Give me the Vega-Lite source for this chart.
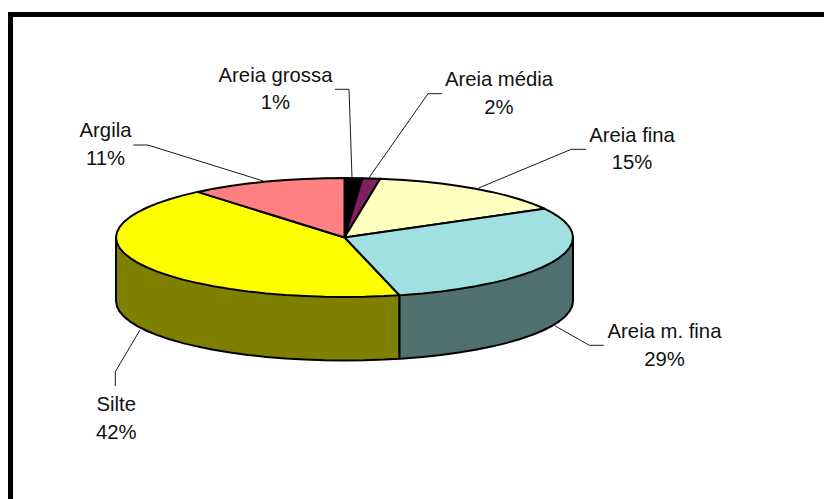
{
"$schema":"https://vega.github.io/schema/vega-lite/v6.json",
"width":824,"height":499,"padding":0,
"autosize":{"type":"fit","contains":"padding"},
"background":"white",
"view":{"stroke":null},
"config":{"view":{"stroke":null}},
"datasets":{
"frame":[
{"side":"top","i":1,"x":10.5,"y":14.5},{"side":"top","i":2,"x":824,"y":14.5},
{"side":"left","i":1,"x":10.5,"y":12},{"side":"left","i":2,"x":10.5,"y":499}],
"walls":[
{"slice":"Areia m. fina wall","i":1,"x":344.5,"y":237.5},{"slice":"Areia m. fina wall","i":2,"x":573,"y":237.5},{"slice":"Areia m. fina wall","i":3,"x":573,"y":301},
{"slice":"Areia m. fina wall","i":4,"x":572.1,"y":306.2},{"slice":"Areia m. fina wall","i":5,"x":569.5,"y":311.3},{"slice":"Areia m. fina wall","i":6,"x":565.2,"y":316.4},{"slice":"Areia m. fina wall","i":7,"x":559.2,"y":321.3},{"slice":"Areia m. fina wall","i":8,"x":551.6,"y":326.1},{"slice":"Areia m. fina wall","i":9,"x":542.4,"y":330.75},{"slice":"Areia m. fina wall","i":10,"x":531.7,"y":335.1},{"slice":"Areia m. fina wall","i":11,"x":519.5,"y":339.2},{"slice":"Areia m. fina wall","i":12,"x":506.1,"y":343.1},{"slice":"Areia m. fina wall","i":13,"x":491.4,"y":346.6},{"slice":"Areia m. fina wall","i":14,"x":475.6,"y":349.7},{"slice":"Areia m. fina wall","i":15,"x":458.8,"y":352.5},{"slice":"Areia m. fina wall","i":16,"x":441.1,"y":354.9},{"slice":"Areia m. fina wall","i":17,"x":422.6,"y":356.9},{"slice":"Areia m. fina wall","i":18,"x":403.6,"y":358.5},{"slice":"Areia m. fina wall","i":19,"x":399.3,"y":358.7},{"slice":"Areia m. fina wall","i":20,"x":399.3,"y":295.2},{"slice":"Areia m. fina wall","i":21,"x":344.5,"y":237.5},
{"slice":"Silte wall","i":1,"x":344.5,"y":237.5},{"slice":"Silte wall","i":2,"x":399.3,"y":295.2},{"slice":"Silte wall","i":3,"x":399.3,"y":358.7},
{"slice":"Silte wall","i":4,"x":384.2,"y":359.6},{"slice":"Silte wall","i":5,"x":364.4,"y":360.3},{"slice":"Silte wall","i":6,"x":344.5,"y":360.5},{"slice":"Silte wall","i":7,"x":324.6,"y":360.3},{"slice":"Silte wall","i":8,"x":304.8,"y":359.6},{"slice":"Silte wall","i":9,"x":285.4,"y":358.5},{"slice":"Silte wall","i":10,"x":266.4,"y":356.9},{"slice":"Silte wall","i":11,"x":247.9,"y":354.9},{"slice":"Silte wall","i":12,"x":230.2,"y":352.5},{"slice":"Silte wall","i":13,"x":213.4,"y":349.7},{"slice":"Silte wall","i":14,"x":197.6,"y":346.6},{"slice":"Silte wall","i":15,"x":182.9,"y":343.1},{"slice":"Silte wall","i":16,"x":169.5,"y":339.2},{"slice":"Silte wall","i":17,"x":157.3,"y":335.1},{"slice":"Silte wall","i":18,"x":146.6,"y":330.75},{"slice":"Silte wall","i":19,"x":137.4,"y":326.1},{"slice":"Silte wall","i":20,"x":129.8,"y":321.3},{"slice":"Silte wall","i":21,"x":123.8,"y":316.4},{"slice":"Silte wall","i":22,"x":119.5,"y":311.3},{"slice":"Silte wall","i":23,"x":116.9,"y":306.2},{"slice":"Silte wall","i":24,"x":116,"y":301},{"slice":"Silte wall","i":25,"x":116,"y":237.5},{"slice":"Silte wall","i":26,"x":344.5,"y":237.5}],
"tops":[
{"slice":"Areia grossa","i":1,"x":344.5,"y":237.5},{"slice":"Areia grossa","i":2,"x":344.5,"y":178},{"slice":"Areia grossa","i":3,"x":362.4,"y":178.2},{"slice":"Areia grossa","i":4,"x":344.5,"y":237.5},
{"slice":"Areia média","i":1,"x":344.5,"y":237.5},{"slice":"Areia média","i":2,"x":362.4,"y":178.2},{"slice":"Areia média","i":3,"x":380.2,"y":178.7},{"slice":"Areia média","i":4,"x":344.5,"y":237.5},
{"slice":"Areia fina","i":1,"x":344.5,"y":237.5},{"slice":"Areia fina","i":2,"x":380.2,"y":178.7},{"slice":"Areia fina","i":3,"x":384.2,"y":178.9},{"slice":"Areia fina","i":4,"x":403.6,"y":180},{"slice":"Areia fina","i":5,"x":422.6,"y":181.6},{"slice":"Areia fina","i":6,"x":441.1,"y":183.6},{"slice":"Areia fina","i":7,"x":458.8,"y":186},{"slice":"Areia fina","i":8,"x":475.6,"y":188.8},{"slice":"Areia fina","i":9,"x":491.4,"y":191.9},{"slice":"Areia fina","i":10,"x":506.1,"y":195.4},{"slice":"Areia fina","i":11,"x":519.5,"y":199.3},{"slice":"Areia fina","i":12,"x":531.7,"y":203.4},{"slice":"Areia fina","i":13,"x":542.4,"y":207.75},{"slice":"Areia fina","i":14,"x":544.3,"y":208.7},{"slice":"Areia fina","i":15,"x":344.5,"y":237.5},
{"slice":"Areia m. fina","i":1,"x":344.5,"y":237.5},{"slice":"Areia m. fina","i":2,"x":544.3,"y":208.7},{"slice":"Areia m. fina","i":3,"x":551.6,"y":212.4},{"slice":"Areia m. fina","i":4,"x":559.2,"y":217.2},{"slice":"Areia m. fina","i":5,"x":565.2,"y":222.1},{"slice":"Areia m. fina","i":6,"x":569.5,"y":227.2},{"slice":"Areia m. fina","i":7,"x":572.1,"y":232.3},{"slice":"Areia m. fina","i":8,"x":573,"y":237.5},{"slice":"Areia m. fina","i":9,"x":572.1,"y":242.7},{"slice":"Areia m. fina","i":10,"x":569.5,"y":247.8},{"slice":"Areia m. fina","i":11,"x":565.2,"y":252.9},{"slice":"Areia m. fina","i":12,"x":559.2,"y":257.8},{"slice":"Areia m. fina","i":13,"x":551.6,"y":262.6},{"slice":"Areia m. fina","i":14,"x":542.4,"y":267.25},{"slice":"Areia m. fina","i":15,"x":531.7,"y":271.6},{"slice":"Areia m. fina","i":16,"x":519.5,"y":275.7},{"slice":"Areia m. fina","i":17,"x":506.1,"y":279.6},{"slice":"Areia m. fina","i":18,"x":491.4,"y":283.1},{"slice":"Areia m. fina","i":19,"x":475.6,"y":286.2},{"slice":"Areia m. fina","i":20,"x":458.8,"y":289},{"slice":"Areia m. fina","i":21,"x":441.1,"y":291.4},{"slice":"Areia m. fina","i":22,"x":422.6,"y":293.4},{"slice":"Areia m. fina","i":23,"x":403.6,"y":295},{"slice":"Areia m. fina","i":24,"x":399.3,"y":295.2},{"slice":"Areia m. fina","i":25,"x":344.5,"y":237.5},
{"slice":"Silte","i":1,"x":344.5,"y":237.5},{"slice":"Silte","i":2,"x":399.3,"y":295.2},{"slice":"Silte","i":3,"x":384.2,"y":296.1},{"slice":"Silte","i":4,"x":364.4,"y":296.8},{"slice":"Silte","i":5,"x":344.5,"y":297},{"slice":"Silte","i":6,"x":324.6,"y":296.8},{"slice":"Silte","i":7,"x":304.8,"y":296.1},{"slice":"Silte","i":8,"x":285.4,"y":295},{"slice":"Silte","i":9,"x":266.4,"y":293.4},{"slice":"Silte","i":10,"x":247.9,"y":291.4},{"slice":"Silte","i":11,"x":230.2,"y":289},{"slice":"Silte","i":12,"x":213.4,"y":286.2},{"slice":"Silte","i":13,"x":197.6,"y":283.1},{"slice":"Silte","i":14,"x":182.9,"y":279.6},{"slice":"Silte","i":15,"x":169.5,"y":275.7},{"slice":"Silte","i":16,"x":157.3,"y":271.6},{"slice":"Silte","i":17,"x":146.6,"y":267.25},{"slice":"Silte","i":18,"x":137.4,"y":262.6},{"slice":"Silte","i":19,"x":129.8,"y":257.8},{"slice":"Silte","i":20,"x":123.8,"y":252.9},{"slice":"Silte","i":21,"x":119.5,"y":247.8},{"slice":"Silte","i":22,"x":116.9,"y":242.7},{"slice":"Silte","i":23,"x":116,"y":237.5},{"slice":"Silte","i":24,"x":116.9,"y":232.3},{"slice":"Silte","i":25,"x":119.5,"y":227.2},{"slice":"Silte","i":26,"x":123.8,"y":222.1},{"slice":"Silte","i":27,"x":129.8,"y":217.2},{"slice":"Silte","i":28,"x":137.4,"y":212.4},{"slice":"Silte","i":29,"x":146.6,"y":207.75},{"slice":"Silte","i":30,"x":157.3,"y":203.4},{"slice":"Silte","i":31,"x":169.5,"y":199.3},{"slice":"Silte","i":32,"x":182.9,"y":195.4},{"slice":"Silte","i":33,"x":197.6,"y":191.9},{"slice":"Silte","i":34,"x":344.5,"y":237.5},
{"slice":"Argila","i":1,"x":344.5,"y":237.5},{"slice":"Argila","i":2,"x":197.6,"y":191.9},{"slice":"Argila","i":3,"x":213.4,"y":188.8},{"slice":"Argila","i":4,"x":230.2,"y":186},{"slice":"Argila","i":5,"x":247.9,"y":183.6},{"slice":"Argila","i":6,"x":266.4,"y":181.6},{"slice":"Argila","i":7,"x":285.4,"y":180},{"slice":"Argila","i":8,"x":304.8,"y":178.9},{"slice":"Argila","i":9,"x":324.6,"y":178.2},{"slice":"Argila","i":10,"x":344.5,"y":178},{"slice":"Argila","i":11,"x":344.5,"y":237.5}],
"leaders":[
{"slice":"Areia grossa","i":1,"x":335,"y":89.3},{"slice":"Areia grossa","i":2,"x":349,"y":89.3},{"slice":"Areia grossa","i":3,"x":352,"y":177.7},
{"slice":"Areia média","i":1,"x":442,"y":93.7},{"slice":"Areia média","i":2,"x":428,"y":93.7},{"slice":"Areia média","i":3,"x":369,"y":177.7},
{"slice":"Areia fina","i":1,"x":586,"y":149.3},{"slice":"Areia fina","i":2,"x":571.3,"y":149.3},{"slice":"Areia fina","i":3,"x":478.7,"y":188},
{"slice":"Areia m. fina","i":1,"x":603.7,"y":345.3},{"slice":"Areia m. fina","i":2,"x":589.3,"y":345.3},{"slice":"Areia m. fina","i":3,"x":554.7,"y":325.7},
{"slice":"Silte","i":1,"x":115.3,"y":386},{"slice":"Silte","i":2,"x":115.3,"y":371.7},{"slice":"Silte","i":3,"x":140,"y":330},
{"slice":"Argila","i":1,"x":133.3,"y":145},{"slice":"Argila","i":2,"x":147.7,"y":145},{"slice":"Argila","i":3,"x":263.3,"y":181}],
"labels":[
{"text":"Areia grossa","x":275.5,"y":81.7},{"text":"1%","x":275.5,"y":109},
{"text":"Areia média","x":499,"y":86},{"text":"2%","x":499,"y":114},
{"text":"Areia fina","x":632,"y":141.7},{"text":"15%","x":632,"y":169.3},
{"text":"Areia m. fina","x":664.5,"y":338},{"text":"29%","x":664.5,"y":365.7},
{"text":"Silte","x":116.3,"y":410.7},{"text":"42%","x":116.3,"y":439},
{"text":"Argila","x":105.5,"y":136.7},{"text":"11%","x":105.5,"y":165}]
},
"encoding":{
"x":{"field":"x","type":"quantitative","scale":{"domain":[0,824],"nice":false,"zero":false},"axis":null},
"y":{"field":"y","type":"quantitative","scale":{"domain":[499,0],"nice":false,"zero":false},"axis":null}
},
"layer":[
{"data":{"name":"frame"},"mark":{"type":"line","stroke":"#000000","strokeWidth":5,"strokeCap":"butt","clip":true},
 "encoding":{"detail":{"field":"side"},"order":{"field":"i"}}},
{"data":{"name":"leaders"},"mark":{"type":"line","stroke":"#1a1a1a","strokeWidth":1},
 "encoding":{"detail":{"field":"slice"},"order":{"field":"i"}}},
{"data":{"name":"walls"},"mark":{"type":"line","stroke":"#000000","strokeWidth":2,"strokeJoin":"round"},
 "encoding":{"fill":{"field":"slice","type":"nominal","legend":null,"scale":{"domain":["Areia m. fina wall","Silte wall","Areia grossa","Areia média","Areia fina","Areia m. fina","Silte","Argila"],"range":["#507070","#808000","#000000","#802060","#FFFFC0","#A0E0E0","#FFFF00","#FF8080"]}},"order":{"field":"i"}}},
{"data":{"name":"tops"},"mark":{"type":"line","stroke":"#000000","strokeWidth":2,"strokeJoin":"round"},
 "encoding":{"fill":{"field":"slice","type":"nominal","legend":null,"scale":{"domain":["Areia m. fina wall","Silte wall","Areia grossa","Areia média","Areia fina","Areia m. fina","Silte","Argila"],"range":["#507070","#808000","#000000","#802060","#FFFFC0","#A0E0E0","#FFFF00","#FF8080"]}},"order":{"field":"i"}}},
{"data":{"name":"labels"},"mark":{"type":"text","font":"Liberation Sans","fontSize":20.3,"align":"center","baseline":"alphabetic","color":"#111111"},
 "encoding":{"text":{"field":"text","type":"nominal"}}}
]
}
